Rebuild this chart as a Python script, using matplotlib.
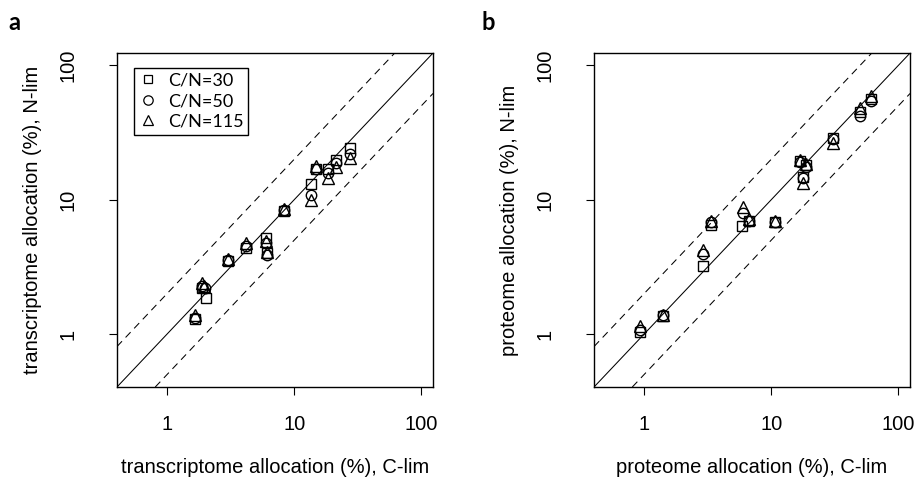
import numpy as np
import matplotlib
matplotlib.use("Agg")
import matplotlib.pyplot as plt
from matplotlib.lines import Line2D

plt.rcParams['font.family'] = ['Liberation Sans', 'DejaVu Sans']

# panel a: transcriptome allocation (%), C-lim (x) vs N-lim (y)
tx_cn30 = [1.65, 2.03, 1.90, 3.00, 4.15, 6.05, 6.10, 8.35, 13.6, 14.9, 18.4, 21.5, 27.5]
ty_cn30 = [1.30, 1.86, 2.22, 3.50, 4.40, 5.20, 4.00, 8.30, 13.0, 16.8, 16.8, 19.8, 24.4]
tx_cn50 = [1.65, 1.98, 1.88, 3.00, 4.15, 6.05, 6.10, 8.35, 13.6, 14.9, 18.4, 21.5, 27.5]
ty_cn50 = [1.32, 2.20, 2.28, 3.55, 4.50, 4.80, 3.90, 8.40, 10.8, 17.0, 15.8, 18.8, 21.8]
tx_cn115 = [1.65, 1.95, 1.90, 3.00, 4.15, 6.05, 6.10, 8.35, 13.6, 14.9, 18.4, 21.5, 27.5]
ty_cn115 = [1.38, 2.30, 2.42, 3.60, 4.75, 4.90, 4.10, 8.50, 10.0, 17.8, 14.6, 17.6, 20.3]

# panel b: proteome allocation (%), C-lim (x) vs N-lim (y)
px_cn30 = [0.93, 1.41, 2.90, 3.35, 5.85, 6.70, 10.7, 16.8, 18.8, 17.9, 30.8, 50.0, 60.5]
py_cn30 = [1.03, 1.37, 3.20, 6.50, 6.40, 7.00, 6.80, 19.5, 18.0, 14.8, 29.0, 45.0, 56.0]
px_cn50 = [0.93, 1.41, 2.90, 3.35, 5.95, 6.70, 10.7, 16.8, 18.8, 17.9, 30.8, 50.0, 60.5]
py_cn50 = [1.07, 1.39, 3.95, 6.80, 8.00, 7.00, 6.80, 19.0, 17.5, 14.4, 28.5, 42.0, 54.0]
px_cn115 = [0.93, 1.41, 2.90, 3.35, 5.95, 6.70, 10.7, 16.8, 18.8, 17.9, 30.8, 50.0, 60.5]
py_cn115 = [1.15, 1.40, 4.25, 6.90, 8.80, 7.20, 6.90, 19.8, 18.5, 13.4, 26.5, 48.0, 59.0]

series_labels = ['C/N=30', 'C/N=50', 'C/N=115']
ticks = [1, 10, 100]
lim = (0.5, 100)

fig = plt.figure(figsize=(9.19, 4.95), dpi=100)
ax_a = fig.add_axes([0.1273, 0.2182, 0.3439, 0.6747])
ax_b = fig.add_axes([0.6464, 0.2182, 0.3439, 0.6747])

mk = [('s', 7.0), ('o', 7.5), ('^', 8.5)]


def panel(ax, xs, ys, xlab, ylab):
    # R style log axes with 4% padding
    lo, hi = np.log10(lim[0]), np.log10(lim[1])
    pad = 0.04 * (hi - lo)
    ax.set_xscale('log')
    ax.set_yscale('log')
    ax.set_xlim(10 ** (lo - pad), 10 ** (hi + pad))
    ax.set_ylim(10 ** (lo - pad), 10 ** (hi + pad))

    ax.axline((1, 1), (10, 10), color='k', lw=0.75)
    ax.axline((1, 2), (10, 20), color='k', lw=0.75, dashes=(7, 5))
    ax.axline((1, 0.5), (10, 5), color='k', lw=0.75, dashes=(7, 5))

    for (m, ms), x, y in zip(mk, xs, ys):
        ax.plot(x, y, ls='none', marker=m, ms=ms, mfc='none', mec='k', mew=1.0)

    ax.set_xticks(ticks)
    ax.set_yticks(ticks)
    ax.set_xticklabels([str(t) for t in ticks])
    ax.set_yticklabels([str(t) for t in ticks])
    ax.minorticks_off()
    ax.tick_params(direction='out', length=5.5, width=0.8, labelsize=14.5, color='k')
    ax.tick_params(axis='x', pad=15)
    ax.tick_params(axis='y', pad=23, labelrotation=90)
    for lbl in ax.get_yticklabels():
        lbl.set_va('center')
    for s in ax.spines.values():
        s.set_linewidth(1.0)

    ax.set_xlabel(xlab, fontsize=14.5)
    ax.set_ylabel(ylab, fontsize=14.5)
    ax.xaxis.set_label_coords(0.5, -0.212)
    ax.yaxis.set_label_coords(-0.237, 0.5)


panel(ax_a, [tx_cn30, tx_cn50, tx_cn115], [ty_cn30, ty_cn50, ty_cn115],
      'transcriptome allocation (%), C-lim', 'transcriptome allocation (%), N-lim')
panel(ax_b, [px_cn30, px_cn50, px_cn115], [py_cn30, py_cn50, py_cn115],
      'proteome allocation (%), C-lim', 'proteome allocation (%), N-lim')

handles = [Line2D([], [], ls='none', marker=m, ms=ms * 0.9, mfc='none', mec='k', mew=0.9)
           for m, ms in mk]
leg = ax_a.legend(handles, series_labels, loc='upper left', bbox_to_anchor=(0.054, 0.956),
                  borderaxespad=0, borderpad=0.28, labelspacing=0.25, handlelength=1.0,
                  handletextpad=0.59, fancybox=False, framealpha=1, edgecolor='k',
                  prop={'family': ['Lato', 'DejaVu Sans'], 'size': 13})
leg.get_frame().set_linewidth(1.0)

fig.text(0.009, 0.955, 'a', fontsize=17, fontweight='bold', family=['Lato', 'DejaVu Sans'], va='center')
fig.text(0.524, 0.955, 'b', fontsize=17, fontweight='bold', family=['Lato', 'DejaVu Sans'], va='center')

fig.savefig('out.png', dpi=100)
